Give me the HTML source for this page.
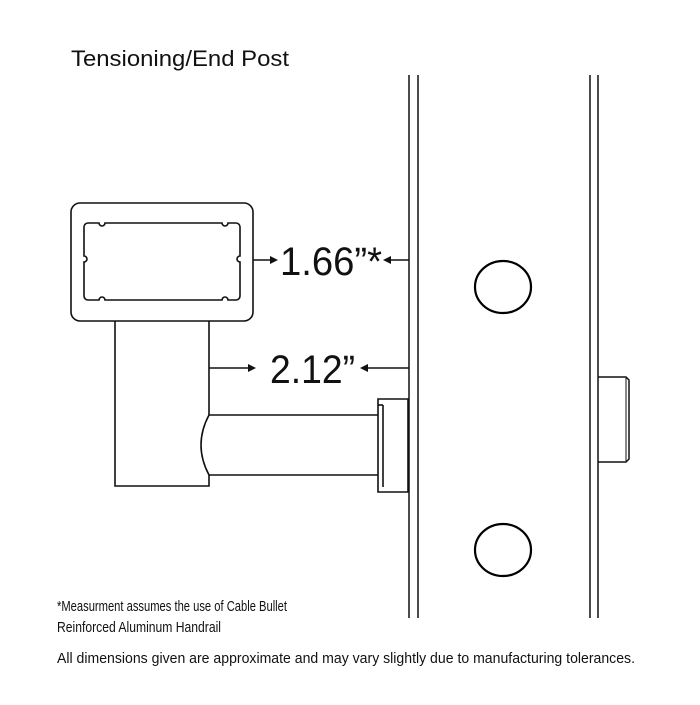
<!DOCTYPE html>
<html><head><style>html,body{margin:0;padding:0;background:#fff}</style></head>
<body>
<svg width="700" height="700" viewBox="0 0 700 700" xmlns="http://www.w3.org/2000/svg" font-family="Liberation Sans, sans-serif">
<text x="71" y="66" font-size="22" fill="#111" textLength="218" lengthAdjust="spacingAndGlyphs">Tensioning/End Post</text>
<g fill="none" stroke="#111" stroke-width="1.5">
<line x1="409" y1="75" x2="409" y2="618"/>
<line x1="418" y1="75" x2="418" y2="618"/>
<line x1="590" y1="75" x2="590" y2="618"/>
<line x1="598" y1="75" x2="598" y2="618"/>
</g>
<g fill="none" stroke="#000" stroke-width="2.2">
<ellipse cx="503" cy="287" rx="28" ry="26"/>
<ellipse cx="503" cy="550" rx="28" ry="26"/>
</g>
<path d="M598 377 H626 L629 380 V459 L626 462 H598" fill="none" stroke="#111" stroke-width="1.5"/>
<line x1="626" y1="378" x2="626" y2="461" stroke="#111" stroke-width="1"/>
<g fill="none" stroke="#111" stroke-width="1.6">
<rect x="71" y="203" width="182" height="118" rx="9"/>
<path d="M88 223 H99 a3 3 0 0 0 6 0 H222 a3 3 0 0 0 6 0 H236 a4 4 0 0 1 4 4 V256 a3 3 0 0 0 0 6 V296 a4 4 0 0 1 -4 4 H228 a3 3 0 0 0 -6 0 H105 a3 3 0 0 0 -6 0 H88 a4 4 0 0 1 -4 -4 V262 a3 3 0 0 0 0 -6 V227 a4 4 0 0 1 4 -4 Z"/>
<path d="M209 321 V415 M209 475 V486 H115 V321"/>
<path d="M209 415 H378 M209 475 H378"/>
<path d="M209 415 Q193 445 209 475"/>
<path d="M378 399 H408 V492 H378 Z"/>
<line x1="383" y1="405" x2="383" y2="487"/>
<line x1="378" y1="405" x2="383" y2="405"/>
</g>
<g stroke="#111" stroke-width="1.6" fill="#111">
<line x1="253" y1="260" x2="272" y2="260"/>
<path d="M278 260 L270 256 L270 264 Z" stroke="none"/>
<line x1="409" y1="260" x2="389" y2="260"/>
<path d="M383 260 L391 256 L391 264 Z" stroke="none"/>
<line x1="209" y1="368" x2="250" y2="368"/>
<path d="M256 368 L248 364 L248 372 Z" stroke="none"/>
<line x1="409" y1="368" x2="366" y2="368"/>
<path d="M360 368 L368 364 L368 372 Z" stroke="none"/>
</g>
<text x="280" y="275" font-size="40" fill="#111" textLength="102" lengthAdjust="spacingAndGlyphs">1.66”*</text>
<text x="270" y="383" font-size="40" fill="#111" textLength="85" lengthAdjust="spacingAndGlyphs">2.12”</text>
<text x="57" y="611" font-size="14.5" fill="#111" textLength="230" lengthAdjust="spacingAndGlyphs">*Measurment assumes the use of Cable Bullet</text>
<text x="57" y="632" font-size="14.5" fill="#111" textLength="164" lengthAdjust="spacingAndGlyphs">Reinforced Aluminum Handrail</text>
<text x="57" y="663" font-size="14.5" fill="#111" textLength="578" lengthAdjust="spacingAndGlyphs">All dimensions given are approximate and may vary slightly due to manufacturing tolerances.</text>
</svg>
</body></html>
